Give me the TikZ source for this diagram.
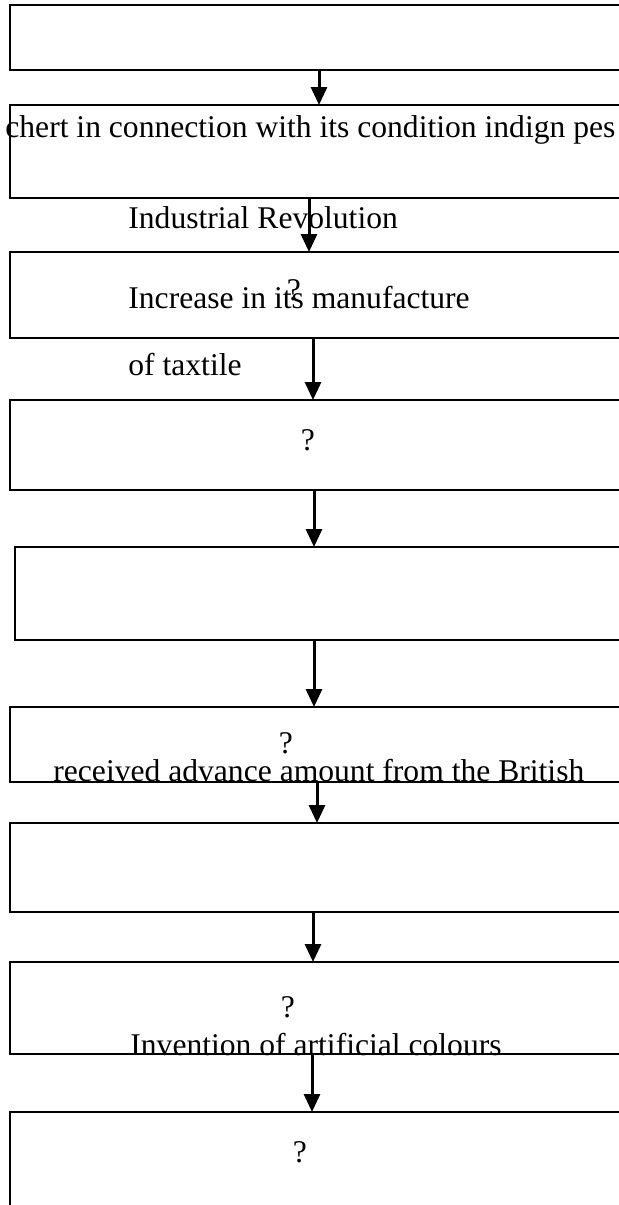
\documentclass[tikz,border=0pt]{standalone}
\usepackage{fontspec}
\setmainfont{Liberation Serif}
\usetikzlibrary{arrows.meta}

\begin{document}
\begin{tikzpicture}[
  x=0.5pt, y=-0.5pt,
  box/.style={draw, line width=1.2pt, inner sep=0pt, outer sep=0pt,
    anchor=north west, minimum width=315pt},
  arr/.style={line width=1.5pt, -{Triangle[width=8pt,length=9pt]}},
  lbl/.style={inner sep=0pt, anchor=base west,
    font=\fontsize{15.8pt}{19pt}\selectfont},
  qm/.style={inner sep=0pt, anchor=base,
    font=\fontsize{15.8pt}{19pt}\selectfont}
]
\useasboundingbox (0,0) rectangle (619,1205);
\clip (0,0) rectangle (619,1205);

% boxes of the chain
\node[box, minimum height=32.5pt] (b1) at (10,5) {};
\node[box, minimum height=46.5pt] (b2) at (10,105) {};
\node[box, minimum height=43pt]   (b3) at (10,252) {};
\node[box, minimum height=45pt]   (b4) at (10,400) {};
\node[box, minimum height=46.5pt, minimum width=312.5pt] (b5) at (15,547) {};
\node[box, minimum height=37.5pt] (b6) at (10,707) {};
\node[box, minimum height=44.5pt] (b7) at (10,823) {};
\node[box, minimum height=46pt]   (b8) at (10,962) {};
\node[box, minimum height=60pt]   (b9) at (10,1112) {};

% arrow columns
\coordinate (c1) at (319,0);
\coordinate (c2) at (309,0);
\coordinate (c3) at (313,0);
\coordinate (c4) at (314,0);
\coordinate (c5) at (314,0);
\coordinate (c6) at (317,0);
\coordinate (c7) at (313,0);
\coordinate (c8) at (312,0);

\draw[arr] (b1.south -| c1) -- (b2.north -| c1);
\draw[arr] (b2.south -| c2) -- (b3.north -| c2);
\draw[arr] (b3.south -| c3) -- (b4.north -| c3);
\draw[arr] (b4.south -| c4) -- (b5.north -| c4);
\draw[arr] (b5.south -| c5) -- (b6.north -| c5);
\draw[arr] (b6.south -| c6) -- (b7.north -| c6);
\draw[arr] (b7.south -| c7) -- (b8.north -| c7);
\draw[arr] (b8.south -| c8) -- (b9.north -| c8);

% texts
\node[lbl] (t1) at (5,137) {chert in connection with its condition indign pes};
\node[lbl] (t2) at (128,228) {Industrial Revolution};
\node[qm]  (q3) at (294,300) {?};
\node[lbl] (t3) at (128,308) {Increase in its manufacture};
\node[lbl] (t4) at (128,375) {of taxtile};
\node[qm]  (q4) at (308,450) {?};
\node[qm]  (q6) at (286,753) {?};
\node[lbl] (t6) at (53,781) {received advance amount from the British};
\node[qm]  (q8) at (288,1017) {?};
\node[lbl] (t8) at (130,1055) {Invention of artificial colours};
\node[qm]  (q9) at (300,1162) {?};
\end{tikzpicture}
\end{document}
